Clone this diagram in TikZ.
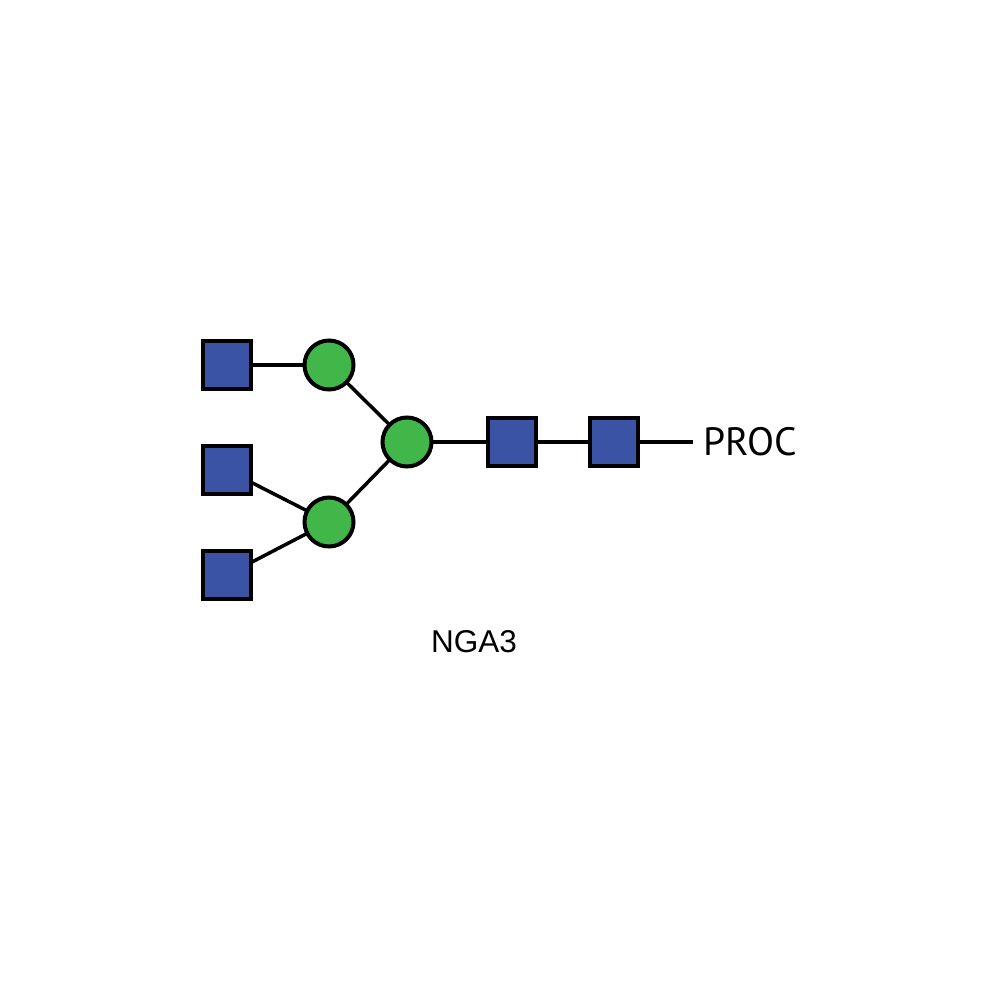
\documentclass[tikz,border=0pt]{standalone}
\usepackage{fontspec}
\newfontfamily\procfont{PT Sans}
\newfontfamily\labfont{Liberation Sans}
\definecolor{glcnac}{HTML}{3A53A4}
\definecolor{man}{HTML}{41B649}
\begin{document}
\begin{tikzpicture}[x=1pt,y=-1pt,
  sq/.style={draw=black,line width=4pt,fill=glcnac,minimum size=48pt,inner sep=0pt,outer sep=0pt},
  circ/.style={circle,draw=black,line width=4pt,fill=man,minimum size=49pt,inner sep=0pt,outer sep=0pt},
  link/.style={line width=3.5pt,black}]
\useasboundingbox (0,0) rectangle (1000,1000);
\node[sq] (s1) at (227,365) {};
\node[sq] (s2) at (227,470) {};
\node[sq] (s3) at (227,575) {};
\node[circ] (c1) at (329,365) {};
\node[circ] (c2) at (329,522) {};
\node[circ] (c3) at (407,442) {};
\node[sq] (s4) at (512,442) {};
\node[sq] (s5) at (614,442) {};
\coordinate (e) at (693,442);
\node[anchor=west,inner sep=0pt,font=\procfont\fontsize{39.5}{41}\selectfont] (proc) at (703,442) {PROC};
\node[inner sep=0pt,font=\labfont\fontsize{31.5}{33}\selectfont] (lab) at (474,642) {NGA3};
\draw[link] (s1) -- (c1);
\draw[link] (s2) -- (c2);
\draw[link] (s3) -- (c2);
\draw[link] (c1) -- (c3);
\draw[link] (c2) -- (c3);
\draw[link] (c3) -- (s4);
\draw[link] (s4) -- (s5);
\draw[link] (s5.east) -- (e);
\end{tikzpicture}
\end{document}
